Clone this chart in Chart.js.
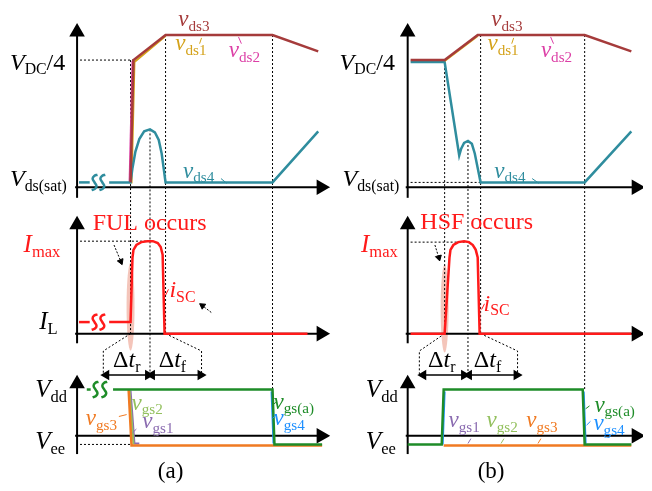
<!DOCTYPE html>
<html lang="en">
<head>
  <meta charset="UTF-8">
  <title>FUL vs HSF waveforms</title>
  <script src="https://cdn.jsdelivr.net/npm/chart.js"></script>
  <style>
    body { margin: 0; background: #fff; }
    canvas { display: block; }
  </style>
</head>
<body>
  <canvas id="wave" width="652" height="491"></canvas>

  <script>
    // figure units: x = time across each column, y = level (0 at top)
    // ---------- column (a): FUL ----------
    const vds3A = [[125,180],[128,53],[161,27],[271,27],[318,44]];
    const vds1A = [[126,181],[129,55],[161,28]];
    const vds2A = [[124,180],[127,54]];
    const vds4A = [[72,180],[83,180]];
    const vds4A2 = [[103,180],[125,180],[127,165],[130,148],[134,135],[139,127],[145,125],[150,128],[154,136],[157,150],[159,165],[161,180],[271,180],[318,127]];
    const iscA = [[72,325],[83,325]];
    const iscA2 = [[103,325],[125,325],[127,258],[128,250],[131,245],[136,242],[142,241],[148,241],[153,243],[156,247],[158,255],[160,337],[307,337]];
    const vgsaA = [[80,395],[84,395]];
    const vgsaA2 = [[107,395],[271,395],[273,452],[322,452]];
    const vgs3A = [[123,395],[126,453],[322,453]];
    const vgs1A = [[125,396],[129,451],[134,451]];
    const vgs2A = [[124,396],[128,452]];
    const vgs4A = [[270,397],[272,451]];

    // ---------- column (b): HSF ----------
    const vds3B = [[413,53],[448,53],[482,27],[592,27],[640,44]];
    const vds1B = [[448,54],[482,28]];
    const vds4B = [[413,55],[448,55],[463,152],[465,145],[468,139],[472,137],[476,140],[479,150],[482,165],[485,180],[592,180],[640,127]];
    const iscB = [[413,337],[448,337],[453,258],[454,250],[457,245],[462,242],[468,241],[473,242],[477,245],[480,250],[482,258],[484,337],[640,337]];
    const vgsaB = [[410,452],[445,452],[447,395],[590,395],[592,452],[640,452]];
    const vgs3B = [[447,453],[640,453]];
    const vgs4B = [[446,452],[448,397]];
    const vgs4B2 = [[591,397],[593,451]];

    // reference levels / guides
    const guides = [
      [[73,53],[128,53]], [[125,53],[125,337]], [[145,125],[145,382]], [[161,27],[161,337]],
      [[271,27],[271,395]], [[73,241],[145,241]], [[73,452],[125,452]],
      [[125,337],[97,355],[97,381]], [[161,337],[198,355],[198,381]],
      [[413,180],[485,180]], [[448,53],[448,337]], [[472,137],[472,382]], [[485,27],[485,337]],
      [[592,27],[592,395]], [[413,242],[470,242]],
      [[448,337],[422,355],[422,381]], [[485,337],[523,355],[523,381]]
    ];
    const spans = [[[100,380],[143,380]], [[147,380],[197,380]], [[426,380],[468,380]], [[473,380],[522,380]]];
    const yAxes = [[[70,196],[70,24]], [[70,347],[70,224]], [[70,462],[70,389]],
                   [[410,196],[410,24]], [[410,347],[410,224]], [[410,462],[410,389]]];
    const xAxes = [[[68,185],[321,185]], [[68,337],[321,337]], [[68,443],[321,443]],
                   [[408,185],[645,185]], [[408,337],[645,337]], [[408,443],[645,443]]];
    const breaks = [[88,180,'#2f8d9e'],[96,180,'#2f8d9e'],[88,325,'#ff1a1a'],[96,325,'#ff1a1a'],[89,395,'#1e8c28'],[98,395,'#1e8c28']];
    const pointers = [[[108,245],[115,262]], [[208,315],[199,308]], [[438,245],[442,258]]];
    const pointerRot = [158, 305, 165];
    const blobs = [[125,309],[448,311]];

    const C = {
      brown: '#a53b3b', gold: '#d4a21a', magenta: '#dc3fa6', teal: '#2f8d9e', red: '#ff1a1a',
      green: '#1e8c28', lgreen: '#93c05e', orange: '#f07a22', purple: '#8a6bb0', blue: '#1e90ff'
    };

    const ticks = [
      [[196,36],[198,30],C.gold], [[236,29],[239,36],C.magenta], [[218,176],[224,181],C.teal],
      [[517,36],[519,30],C.gold], [[557,29],[560,36],C.magenta], [[538,176],[545,181],C.teal],
      [[164,291],[161,297],C.red], [[489,306],[486,312],C.red],
      [[113,423],[121,421],C.orange], [[127,440],[131,436],C.purple],
      [[271,411],[275,408],C.green], [[271,425],[275,421],C.blue],
      [[475,446],[472,451],C.purple], [[509,446],[506,451],C.lgreen], [[547,446],[544,451],C.orange],
      [[593,415],[597,412],C.green], [[594,432],[598,428],C.blue]
    ];

    const notes = [
      {x:1,y:63,c:'#000',s:24,p:[['V','i'],['DC','s'],['/4','r']]},
      {x:1,y:184,c:'#000',s:24,p:[['V','i'],['ds(sat)','s']]},
      {x:174,y:18,c:C.brown,s:23,p:[['v','i'],['ds3','s']]},
      {x:171,y:43,c:C.gold,s:23,p:[['v','i'],['ds1','s']]},
      {x:226,y:50,c:C.magenta,s:23,p:[['v','i'],['ds2','s']]},
      {x:179,y:175,c:C.teal,s:23,p:[['v','i'],['ds4','s']]},
      {x:86,y:229,c:C.red,s:24,p:[['FUL occurs','r']]},
      {x:15,y:252,c:C.red,s:25,p:[['I','i'],['max','s']]},
      {x:31,y:332,c:'#000',s:25,p:[['I','i'],['L','s']]},
      {x:165,y:299,c:C.red,s:24,p:[['i','i'],['SC','s']]},
      {x:107,y:372,c:'#000',s:24,p:[['\u0394','r'],['t','i'],['r','s']]},
      {x:154,y:372,c:'#000',s:24,p:[['\u0394','r'],['t','i'],['f','s']]},
      {x:27,y:403,c:'#000',s:25,p:[['V','i'],['dd','s']]},
      {x:27,y:457,c:'#000',s:25,p:[['V','i'],['ee','s']]},
      {x:126,y:416,c:C.lgreen,s:23,p:[['v','i'],['gs2','s']]},
      {x:79,y:432,c:C.orange,s:23,p:[['v','i'],['gs3','s']]},
      {x:137,y:435,c:C.purple,s:23,p:[['v','i'],['gs1','s']]},
      {x:272,y:415,c:C.green,s:23,p:[['v','i'],['gs(a)','s']]},
      {x:272,y:432,c:C.blue,s:23,p:[['v','i'],['gs4','s']]},
      {x:153,y:487,c:'#000',s:23,p:[['(a)','r']]},

      {x:340,y:63,c:'#000',s:24,p:[['V','i'],['DC','s'],['/4','r']]},
      {x:343,y:184,c:'#000',s:24,p:[['V','i'],['ds(sat)','s']]},
      {x:496,y:18,c:C.brown,s:23,p:[['v','i'],['ds3','s']]},
      {x:492,y:43,c:C.gold,s:23,p:[['v','i'],['ds1','s']]},
      {x:547,y:50,c:C.magenta,s:23,p:[['v','i'],['ds2','s']]},
      {x:499,y:175,c:C.teal,s:23,p:[['v','i'],['ds4','s']]},
      {x:423,y:228,c:C.red,s:24,p:[['HSF occurs','r']]},
      {x:362,y:252,c:C.red,s:25,p:[['I','i'],['max','s']]},
      {x:488,y:313,c:C.red,s:24,p:[['i','i'],['SC','s']]},
      {x:431,y:372,c:'#000',s:24,p:[['\u0394','r'],['t','i'],['r','s']]},
      {x:478,y:372,c:'#000',s:24,p:[['\u0394','r'],['t','i'],['f','s']]},
      {x:367,y:403,c:'#000',s:25,p:[['V','i'],['dd','s']]},
      {x:367,y:457,c:'#000',s:25,p:[['V','i'],['ee','s']]},
      {x:452,y:434,c:C.purple,s:23,p:[['v','i'],['gs1','s']]},
      {x:491,y:434,c:C.lgreen,s:23,p:[['v','i'],['gs2','s']]},
      {x:532,y:434,c:C.orange,s:23,p:[['v','i'],['gs3','s']]},
      {x:602,y:418,c:C.green,s:23,p:[['v','i'],['gs(a)','s']]},
      {x:601,y:437,c:C.blue,s:23,p:[['v','i'],['gs4','s']]},
      {x:482,y:487,c:'#000',s:23,p:[['(b)','r']]}
    ];

    function line(pts, color, width, extra) {
      return Object.assign({
        data: pts.map(p => ({ x: p[0], y: p[1] })),
        borderColor: color, backgroundColor: color,
        borderWidth: width, pointRadius: 0, showLine: true, tension: 0, fill: false
      }, extra || {});
    }

    // small "S" break mark
    const sShape = [[3,-8],[0,-7],[-2,-4],[0,0],[2,4],[0,7],[-3,8]];

    const layers = [];
    guides.forEach(g => layers.push(line(g, '#000', 1, { borderDash: [2, 2] })));
    yAxes.forEach(a => layers.push(line(a, '#000', 2, { pointRadius: [0, 7], pointStyle: 'triangle', pointRotation: 0 })));
    xAxes.forEach(a => layers.push(line(a, '#000', 2, { pointRadius: [0, 7], pointStyle: 'triangle', pointRotation: 90 })));
    spans.forEach(a => layers.push(line(a, '#000', 1.5, { pointRadius: 4.5, pointStyle: 'triangle', pointRotation: [270, 90] })));
    pointers.forEach((a, i) => layers.push(line(a, '#000', 1, { borderDash: [2, 1.5], pointRadius: [0, 3.5], pointStyle: 'triangle', pointRotation: pointerRot[i] })));

    // panel (a)
    layers.push(line(vds2A, C.magenta, 2));
    layers.push(line(vds1A, C.gold, 2));
    layers.push(line(vds4A, C.teal, 2.5));
    layers.push(line(vds4A2, C.teal, 2.5));
    layers.push(line(vds3A, C.brown, 2.5));
    layers.push(line(iscA, C.red, 2.5));
    layers.push(line(iscA2, C.red, 2.5));
    layers.push(line(vgs4A, C.blue, 2));
    layers.push(line(vgs1A, C.purple, 2));
    layers.push(line(vgs2A, C.lgreen, 2));
    layers.push(line(vgs3A, C.orange, 2.5));
    layers.push(line(vgsaA, C.green, 2.5));
    layers.push(line(vgsaA2, C.green, 2.5));

    // panel (b)
    layers.push(line(vds4B, C.teal, 2.5));
    layers.push(line(vds1B, C.gold, 2));
    layers.push(line(vds3B, C.brown, 2.5));
    layers.push(line(iscB, C.red, 2.5));
    layers.push(line(vgs3B, C.orange, 2.5));
    layers.push(line(vgs4B, C.blue, 2));
    layers.push(line(vgs4B2, C.blue, 2));
    layers.push(line(vgsaB, C.green, 2.5));

    breaks.forEach(b => layers.push(line(sShape.map(p => [b[0] + p[0], b[1] + p[1]]), b[2], 2.5, { tension: 0.5 })));
    ticks.forEach(t => layers.push(line([t[0], t[1]], t[2], 1)));

    const decor = {
      id: 'decor',
      beforeDatasetsDraw(chart) {
        const { ctx, scales: { x, y } } = chart;
        ctx.save();
        ctx.fillStyle = 'rgba(235,150,130,0.55)';
        blobs.forEach(b => {
          ctx.beginPath();
          ctx.ellipse(x.getPixelForValue(b[0]), y.getPixelForValue(b[1]), 4, 44, 0, 0, Math.PI * 2);
          ctx.fill();
        });
        ctx.restore();
      },
      afterDatasetsDraw(chart) {
        const { ctx, scales: { x, y } } = chart;
        ctx.save();
        ctx.textBaseline = 'alphabetic';
        notes.forEach(n => {
          let px = x.getPixelForValue(n.x);
          const py = y.getPixelForValue(n.y);
          ctx.fillStyle = n.c;
          n.p.forEach(([t, k]) => {
            const sub = k === 's';
            const size = sub ? n.s * 0.66 : n.s;
            ctx.font = (k === 'i' ? 'italic ' : '') + size + 'px "Liberation Serif"';
            ctx.fillText(t, px, py + (sub ? n.s * 0.2 : 0));
            px += ctx.measureText(t).width;
          });
        });
        ctx.restore();
      }
    };

    new Chart(document.getElementById('wave'), {
      type: 'scatter',
      data: { datasets: layers.reverse() },
      options: {
        responsive: false,
        animation: false,
        layout: { padding: 0 },
        scales: {
          x: { type: 'linear', min: 0, max: 652, display: false },
          y: { type: 'linear', min: 0, max: 491, reverse: true, display: false }
        },
        plugins: { legend: { display: false }, tooltip: { enabled: false } }
      },
      plugins: [decor]
    });
  </script>
</body>
</html>
